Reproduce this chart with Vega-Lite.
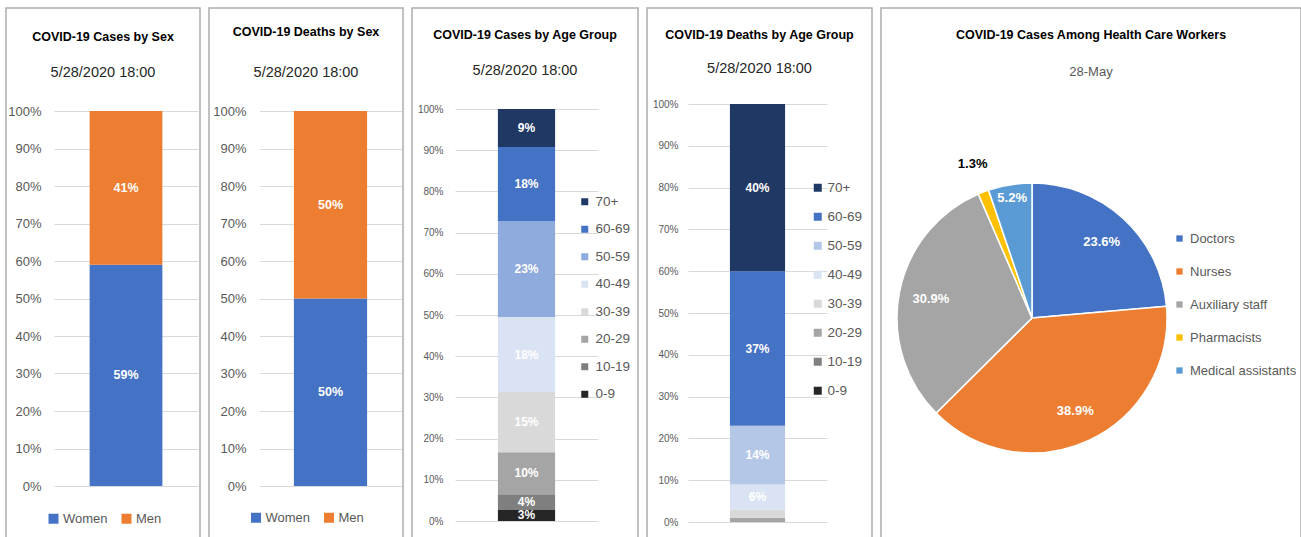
{
  "$schema": "https://vega.github.io/schema/vega-lite/v6.json",
  "background": "white",
  "padding": {"left": 5, "top": 7, "right": 0, "bottom": 0},
  "bounds": "flush",
  "config": {
    "font": "Liberation Sans",
    "view": {"stroke": "#ADADAD", "strokeWidth": 1.5},
    "axis": {"domain": false, "ticks": false, "title": null, "gridColor": "#D9D9D9", "gridWidth": 1, "labelColor": "#595959", "labelFont": "Liberation Sans"},
    "legend": {"title": null, "symbolType": "square", "labelColor": "#595959", "symbolStrokeWidth": 0, "orient": "none", "labelFont": "Liberation Sans"},
    "title": {"color": "#000000", "fontWeight": "bold", "subtitleColor": "#262626", "anchor": "middle", "frame": "group", "font": "Liberation Sans", "subtitleFont": "Liberation Sans"}
  },
  "datasets": {
    "sex": [
      {"measure": "Cases", "sex": "Women", "share": 0.59},
      {"measure": "Cases", "sex": "Men", "share": 0.41},
      {"measure": "Deaths", "sex": "Women", "share": 0.50},
      {"measure": "Deaths", "sex": "Men", "share": 0.50}
    ],
    "age": [
      {"measure": "Cases", "age": "0-9", "share": 0.027},
      {"measure": "Cases", "age": "10-19", "share": 0.038},
      {"measure": "Cases", "age": "20-29", "share": 0.102},
      {"measure": "Cases", "age": "30-39", "share": 0.146},
      {"measure": "Cases", "age": "40-49", "share": 0.182},
      {"measure": "Cases", "age": "50-59", "share": 0.233},
      {"measure": "Cases", "age": "60-69", "share": 0.180},
      {"measure": "Cases", "age": "70+", "share": 0.092},
      {"measure": "Deaths", "age": "0-9", "share": 0.0},
      {"measure": "Deaths", "age": "10-19", "share": 0.002},
      {"measure": "Deaths", "age": "20-29", "share": 0.008},
      {"measure": "Deaths", "age": "30-39", "share": 0.02},
      {"measure": "Deaths", "age": "40-49", "share": 0.06},
      {"measure": "Deaths", "age": "50-59", "share": 0.14},
      {"measure": "Deaths", "age": "60-69", "share": 0.37},
      {"measure": "Deaths", "age": "70+", "share": 0.40}
    ],
    "workers": [
      {"category": "Doctors", "share": 0.236},
      {"category": "Nurses", "share": 0.389},
      {"category": "Auxiliary staff", "share": 0.309},
      {"category": "Pharmacists", "share": 0.013},
      {"category": "Medical assistants", "share": 0.052}
    ]
  },
  "spacing": 9,
  "resolve": {"scale": {"color": "independent", "x": "independent", "y": "independent"}},
  "hconcat": [
    {
      "width": 194, "height": 535,
      "data": {"name": "sex"},
      "transform": [{"filter": "datum.measure === 'Cases'"}],
      "title": {"text": "COVID-19 Cases by Sex", "subtitle": "5/28/2020 18:00", "fontSize": 12.5, "subtitleFontSize": 14.5, "offset": -71, "subtitlePadding": 22},
      "encoding": {
        "x": {"field": "measure", "type": "nominal", "axis": null, "scale": {"range": [48, 192], "paddingInner": 0, "paddingOuter": 0.49}},
        "order": {"field": "sex", "sort": "descending"}
      },
      "layer": [
        {
          "mark": "bar",
          "encoding": {
            "y": {"field": "share", "type": "quantitative", "stack": "zero", "scale": {"domain": [0, 1], "range": [478, 103], "nice": false},
                  "axis": {"values": [0, 0.1, 0.2, 0.3, 0.4, 0.5, 0.6, 0.7, 0.8, 0.9, 1], "format": ".0%", "offset": -38, "labelPadding": 3, "labelFontSize": 13, "grid": true}},
            "color": {"field": "sex", "type": "nominal", "scale": {"domain": ["Women", "Men"], "range": ["#4472C4", "#ED7D31"]},
                      "legend": {"direction": "horizontal", "legendX": 41, "legendY": 504, "symbolSize": 100, "labelFontSize": 13, "labelOffset": 3, "columnPadding": 12}}
          }
        },
        {
          "mark": {"type": "text", "color": "white", "fontWeight": "bold", "fontSize": 12.5},
          "encoding": {
            "y": {"field": "share", "type": "quantitative", "stack": "zero", "bandPosition": 0.5},
            "detail": {"field": "sex"},
            "text": {"field": "share", "format": ".0%"}
          }
        }
      ]
    },
    {
      "width": 194, "height": 535,
      "data": {"name": "sex"},
      "transform": [{"filter": "datum.measure === 'Deaths'"}],
      "title": {"text": "COVID-19 Deaths by Sex", "subtitle": "5/28/2020 18:00", "fontSize": 12.5, "subtitleFontSize": 14.5, "offset": -71, "subtitlePadding": 27},
      "encoding": {
        "x": {"field": "measure", "type": "nominal", "axis": null, "scale": {"range": [50.5, 192.5], "paddingInner": 0, "paddingOuter": 0.47}},
        "order": {"field": "sex", "sort": "descending"}
      },
      "layer": [
        {
          "mark": "bar",
          "encoding": {
            "y": {"field": "share", "type": "quantitative", "stack": "zero", "scale": {"domain": [0, 1], "range": [478, 103], "nice": false},
                  "axis": {"values": [0, 0.1, 0.2, 0.3, 0.4, 0.5, 0.6, 0.7, 0.8, 0.9, 1], "format": ".0%", "offset": -40, "labelPadding": 3, "labelFontSize": 13, "grid": true}},
            "color": {"field": "sex", "type": "nominal", "scale": {"domain": ["Women", "Men"], "range": ["#4472C4", "#ED7D31"]},
                      "legend": {"direction": "horizontal", "legendX": 40.5, "legendY": 503, "symbolSize": 100, "labelFontSize": 13, "labelOffset": 3, "columnPadding": 12}}
          }
        },
        {
          "mark": {"type": "text", "color": "white", "fontWeight": "bold", "fontSize": 12.5},
          "encoding": {
            "y": {"field": "share", "type": "quantitative", "stack": "zero", "bandPosition": 0.5},
            "detail": {"field": "sex"},
            "text": {"field": "share", "format": ".0%"}
          }
        }
      ]
    },
    {
      "width": 226, "height": 535,
      "data": {"name": "age"},
      "transform": [{"filter": "datum.measure === 'Cases'"}],
      "title": {"text": "COVID-19 Cases by Age Group", "subtitle": "5/28/2020 18:00", "fontSize": 12.5, "subtitleFontSize": 14.5, "offset": -69, "subtitlePadding": 22},
      "encoding": {
        "x": {"field": "measure", "type": "nominal", "axis": null, "scale": {"range": [43, 186], "paddingInner": 0, "paddingOuter": 0.75}},
        "order": {"field": "age", "sort": "ascending"}
      },
      "layer": [
        {
          "mark": "bar",
          "encoding": {
            "y": {"field": "share", "type": "quantitative", "stack": "zero", "scale": {"domain": [0, 1], "range": [513, 101], "nice": false},
                  "axis": {"values": [0, 0.1, 0.2, 0.3, 0.4, 0.5, 0.6, 0.7, 0.8, 0.9, 1], "format": ".0%", "offset": -34, "labelPadding": 3, "labelFontSize": 10, "grid": true}},
            "color": {"field": "age", "type": "nominal",
                      "scale": {"domain": ["70+", "60-69", "50-59", "40-49", "30-39", "20-29", "10-19", "0-9"], "range": ["#203864", "#4472C4", "#8FAADC", "#DAE3F3", "#D9D9D9", "#A5A5A5", "#7F7F7F", "#262626"]},
                      "legend": {"direction": "vertical", "legendX": 166, "legendY": 187, "symbolSize": 49, "labelFontSize": 13.5, "labelOffset": 4, "rowPadding": 12.5}}
          }
        },
        {
          "mark": {"type": "text", "color": "white", "fontWeight": "bold", "fontSize": 12},
          "encoding": {
            "y": {"field": "share", "type": "quantitative", "stack": "zero", "bandPosition": 0.5},
            "detail": {"field": "age"},
            "text": {"field": "share", "format": ".0%"}
          }
        }
      ]
    },
    {
      "width": 225, "height": 535,
      "data": {"name": "age"},
      "transform": [{"filter": "datum.measure === 'Deaths'"}],
      "title": {"text": "COVID-19 Deaths by Age Group", "subtitle": "5/28/2020 18:00", "fontSize": 12.5, "subtitleFontSize": 14.5, "offset": -67, "subtitlePadding": 20},
      "encoding": {
        "x": {"field": "measure", "type": "nominal", "axis": null, "scale": {"range": [41, 180], "paddingInner": 0, "paddingOuter": 0.76}},
        "order": {"field": "age", "sort": "ascending"}
      },
      "layer": [
        {
          "mark": "bar",
          "encoding": {
            "y": {"field": "share", "type": "quantitative", "stack": "zero", "scale": {"domain": [0, 1], "range": [514, 96], "nice": false},
                  "axis": {"values": [0, 0.1, 0.2, 0.3, 0.4, 0.5, 0.6, 0.7, 0.8, 0.9, 1], "format": ".0%", "offset": -34, "labelPadding": 3, "labelFontSize": 10, "grid": true}},
            "color": {"field": "age", "type": "nominal",
                      "scale": {"domain": ["70+", "60-69", "50-59", "40-49", "30-39", "20-29", "10-19", "0-9"], "range": ["#203864", "#4472C4", "#B4C7E7", "#DAE3F3", "#D9D9D9", "#A5A5A5", "#7F7F7F", "#262626"]},
                      "legend": {"direction": "vertical", "legendX": 164, "legendY": 173, "symbolSize": 64, "labelFontSize": 13.5, "labelOffset": 3, "rowPadding": 14}}
          }
        },
        {
          "mark": {"type": "text", "color": "white", "fontWeight": "bold", "fontSize": 12},
          "encoding": {
            "y": {"field": "share", "type": "quantitative", "stack": "zero", "bandPosition": 0.5},
            "detail": {"field": "age"},
            "text": {"condition": {"test": "datum.share < 0.05", "value": ""}, "field": "share", "format": ".0%"}
          }
        }
      ]
    },
    {
      "width": 420, "height": 535,
      "view": {"stroke": "#ADADAD", "strokeWidth": 1.5, "fill": "white"},
      "data": {"name": "workers"},
      "transform": [{"window": [{"op": "row_number", "as": "k"}]}],
      "title": {"text": "COVID-19 Cases Among Health Care Workers", "subtitle": "28-May", "fontSize": 12.5, "subtitleFontSize": 13, "subtitleColor": "#595959", "offset": -71, "subtitlePadding": 25},
      "encoding": {
        "theta": {"field": "share", "type": "quantitative", "stack": true},
        "order": {"field": "k", "type": "quantitative", "sort": "ascending"}
      },
      "layer": [
        {
          "mark": {"type": "arc", "radius": 135, "x": 151, "y": 310, "stroke": "white", "strokeWidth": 1.5},
          "encoding": {
            "color": {"field": "category", "type": "nominal",
                      "scale": {"domain": ["Doctors", "Nurses", "Auxiliary staff", "Pharmacists", "Medical assistants"], "range": ["#4472C4", "#ED7D31", "#A5A5A5", "#FFC000", "#5B9BD5"]},
                      "legend": {"direction": "vertical", "legendX": 292, "legendY": 224, "symbolSize": 40, "labelFontSize": 13, "labelOffset": 4, "rowPadding": 19}}
          }
        },
        {
          "mark": {"type": "text", "radius": 103, "x": 151, "y": 310, "color": "white", "fontWeight": "bold", "fontSize": 13},
          "encoding": {
            "detail": {"field": "category"},
            "text": {"condition": {"test": "datum.category === 'Pharmacists' || datum.category === 'Medical assistants'", "value": ""}, "field": "share", "format": ".1%"}
          }
        },
        {
          "mark": {"type": "text", "radius": 122, "x": 151, "y": 310, "color": "white", "fontWeight": "bold", "fontSize": 13},
          "encoding": {
            "detail": {"field": "category"},
            "text": {"condition": {"test": "datum.category !== 'Medical assistants'", "value": ""}, "field": "share", "format": ".1%"}
          }
        },
        {
          "mark": {"type": "text", "radius": 165, "x": 151, "y": 310, "color": "#000000", "fontWeight": "bold", "fontSize": 13},
          "encoding": {
            "detail": {"field": "category"},
            "text": {"condition": {"test": "datum.category !== 'Pharmacists'", "value": ""}, "field": "share", "format": ".1%"}
          }
        }
      ]
    }
  ]
}
